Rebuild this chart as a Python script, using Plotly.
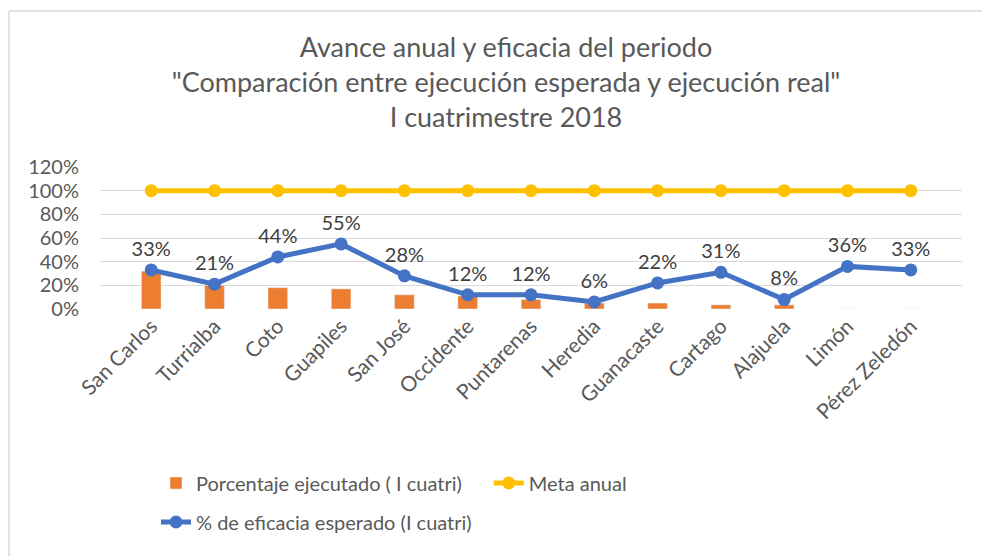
import plotly.graph_objects as go

categorias = ["San Carlos", "Turrialba", "Coto", "Guapiles", "San José", "Occidente",
              "Puntarenas", "Heredia", "Guanacaste", "Cartago", "Alajuela", "Limón", "Pérez Zeledón"]
porcentaje_ejecutado = [0.32, 0.20, 0.18, 0.17, 0.12, 0.11, 0.08, 0.05, 0.05, 0.035, 0.035, 0.0, 0.0]
meta_anual = [1.0] * 13
eficacia_esperada = [0.33, 0.21, 0.44, 0.55, 0.28, 0.12, 0.12, 0.06, 0.22, 0.31, 0.08, 0.36, 0.33]
y_ticks = [0, 0.2, 0.4, 0.6, 0.8, 1.0, 1.2]

FONT = "Lato, Calibri, 'Liberation Sans', sans-serif"
TXT = "#595959"

W, H = 982, 556
L, T, R, B = 100, 167, 20, 247
PW, PH = W - L - R, H - T - B

def py(ypix):  # layout pixel y -> paper y
    return (H - B - ypix) / PH

def px(xpix):
    return (xpix - L) / PW

fig = go.Figure()
fig.add_trace(go.Bar(
    x=categorias, y=porcentaje_ejecutado, name="Porcentaje ejecutado ( I cuatri)",
    marker_color="#ED7D31", width=0.31, legend="legend"))
fig.add_trace(go.Scatter(
    x=categorias, y=meta_anual, name="Meta anual", mode="lines+markers",
    line=dict(color="#FFC000", width=5), marker=dict(size=13, color="#FFC000"),
    legend="legend"))
fig.add_trace(go.Scatter(
    x=categorias, y=eficacia_esperada, name="% de eficacia esperado (I cuatri)",
    mode="lines+markers+text",
    text=[f"{round(v*100)}%" for v in eficacia_esperada],
    textposition="top center", textfont=dict(size=20, color="#404040", family=FONT),
    line=dict(color="#4472C4", width=5), marker=dict(size=13, color="#4472C4"),
    legend="legend2"))

leg_common = dict(orientation="h", xanchor="left", yanchor="middle",
                  font=dict(size=20, color=TXT, family=FONT), bgcolor="rgba(0,0,0,0)")

fig.update_layout(
    width=W, height=H,
    paper_bgcolor="white", plot_bgcolor="white",
    margin=dict(l=L, r=R, t=T, b=B, autoexpand=False),
    font=dict(family=FONT, color=TXT, size=20),
    title=dict(
        text="Avance anual y eficacia del periodo<br>\"Comparación entre ejecución esperada y ejecución real\"<br>I cuatrimestre 2018",
        xref="container", yref="container",
        x=506 / W, xanchor="center", y=1 - 57 / H, yanchor="top",
        font=dict(size=27, color=TXT, family=FONT)),
    showlegend=True,
    legend=dict(x=px(156), y=py(483), entrywidth=0.386, entrywidthmode="fraction", **leg_common),
    legend2=dict(x=px(156), y=py(522), **leg_common),
    bargap=0.5,
)
fig.update_yaxes(range=[0, 1.2], tickvals=y_ticks, tickformat=".0%",
                 showgrid=True, gridcolor="#D9D9D9", gridwidth=1.3,
                 zeroline=False, showline=False, ticks="", ticklabelstandoff=20,
                 tickfont=dict(size=20, color=TXT), automargin=False)
fig.update_xaxes(tickangle=-45, showgrid=False, showline=False, ticks="",
                 tickfont=dict(size=21, color=TXT), automargin=False)

# chart frame: only top and left edges are visible in the window
fig.add_shape(type="line", xref="paper", yref="paper",
              x0=px(9), x1=px(W + 20), y0=py(11), y1=py(11),
              line=dict(color="#D9D9D9", width=1.5), layer="below")
fig.add_shape(type="line", xref="paper", yref="paper",
              x0=px(9), x1=px(9), y0=py(11), y1=py(H + 20),
              line=dict(color="#D9D9D9", width=1.5), layer="below")

fig.write_html(
    "out.html",
    config={"displayModeBar": False},
    post_script="document.body.style.margin='0';document.body.style.overflow='hidden';",
)
